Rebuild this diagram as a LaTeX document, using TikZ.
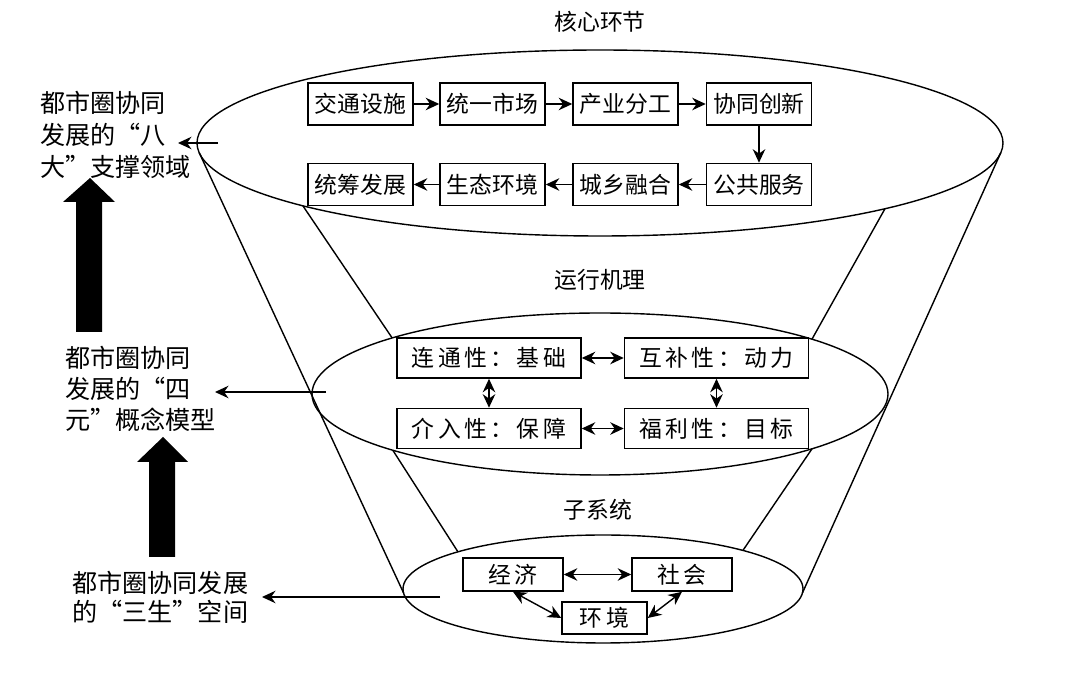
\documentclass[tikz,border=0pt]{standalone}
\usepackage{fontspec}
\usetikzlibrary{arrows.meta}
\newfontfamily\cjk[RawFeature=+fwid]{Noto Sans CJK SC}
\newfontfamily\cjkw[LetterSpace=15]{Noto Sans CJK SC}
\begin{document}
\begin{tikzpicture}[x=0.02cm,y=-0.02cm,
  ln/.style={line width=0.8pt},
  tip/.style={-{Stealth[length=2.7mm,width=2.5mm]}, line width=0.8pt},
  dtip/.style={{Stealth[length=2.7mm,width=2.5mm]}-{Stealth[length=2.7mm,width=2.5mm]}, line width=0.8pt},
  box/.style={draw, line width=0.9pt, inner sep=0pt, font=\cjk\fontsize{13}{15}\selectfont, minimum width=2.1cm, minimum height=0.84cm},
  mbox/.style={draw, line width=0.9pt, inner sep=0pt, font=\cjkw\fontsize{13}{15}\selectfont, minimum width=3.68cm, minimum height=0.8cm},
  sbox/.style={draw, line width=0.9pt, inner sep=0pt, font=\cjkw\fontsize{13}{15}\selectfont, minimum width=2.0cm, minimum height=0.66cm},
  ttl/.style={font=\cjk\fontsize{13}{15}\selectfont, inner sep=0pt},
  lab/.style={font=\cjk\fontsize{14.3}{18}\selectfont, align=left, inner sep=0pt, anchor=west}
]
\useasboundingbox (0,0) rectangle (1080,685);
\fill[white] (0,0) rectangle (1080,685);

% ellipses
\draw[ln] (600,143) ellipse [x radius=403, y radius=93];
\draw[ln] (600,394) ellipse [x radius=288, y radius=81];
\draw[ln] (603,589) ellipse [x radius=200, y radius=54];

% funnel outer lines
\draw[ln] ({600+403*cos(174)},{143+93*sin(174)}) -- ({603+200*cos(176)},{589+54*sin(176)});
\draw[ln] ({600+403*cos(6)},{143+93*sin(6)}) -- ({603+200*cos(4)},{589+54*sin(4)});
% inner lines
\draw[ln] ({600+403*cos(137.5)},{143+93*sin(137.5)}) -- ({600+288*cos(223.8)},{394+81*sin(223.8)});
\draw[ln] ({600+403*cos(45)},{143+93*sin(45)}) -- ({600+288*cos(317.4)},{394+81*sin(317.4)});
\draw[ln] ({600+288*cos(136)},{394+81*sin(136)}) -- ({603+200*cos(223.5)},{589+54*sin(223.5)});
\draw[ln] ({600+288*cos(42.6)},{394+81*sin(42.6)}) -- ({603+200*cos(314.4)},{589+54*sin(314.4)});

% titles
\node[ttl] (t1) at (600,22) {核心环节};
\node[ttl] (t2) at (600,280) {运行机理};
\node[ttl] (t3) at (598,510) {子系统};

% top boxes
\node[box] (a1) at (360.5,104) {交通设施};
\node[box] (a2) at (492.5,104) {统一市场};
\node[box] (a3) at (625.5,104) {产业分工};
\node[box] (a4) at (759,104) {协同创新};
\node[box] (b1) at (360.5,184.5) {统筹发展};
\node[box] (b2) at (492.5,184.5) {生态环境};
\node[box] (b3) at (625.5,184.5) {城乡融合};
\node[box] (b4) at (759,184.5) {公共服务};
\draw[tip] (a1) -- (a2);
\draw[tip] (a2) -- (a3);
\draw[tip] (a3) -- (a4);
\draw[tip] (a4) -- (b4);
\draw[tip] (b4) -- (b3);
\draw[tip] (b3) -- (b2);
\draw[tip] (b2) -- (b1);

% middle boxes
\node[mbox] (m1) at (489,358) {连通性：基础};
\node[mbox] (m2) at (716.5,358) {互补性：动力};
\node[mbox] (m3) at (489,428.5) {介入性：保障};
\node[mbox] (m4) at (716.5,428.5) {福利性：目标};
\draw[dtip] (m1) -- (m2);
\draw[dtip] (m3) -- (m4);
\draw[dtip] (m1) -- (m3);
\draw[dtip] (m2) -- (m4);

% bottom boxes
\node[sbox] (s1) at (513,574.5) {经济};
\node[sbox] (s2) at (682,574.5) {社会};
\node[sbox, minimum width=1.7cm, minimum height=0.64cm] (s3) at (604.5,618) {环境};
\draw[dtip] (s1) -- (s2);
\draw[dtip] (s1.south) -- (s3.west);
\draw[dtip] (s2.south) -- (s3.east);

% left labels
\node[lab] (L1) at (40,135) {都市圈协同\\发展的“八\\大”支撑领域};
\node[lab, font=\cjk\fontsize{14.3}{17.5}\selectfont] (L2) at (65,389) {都市圈协同\\发展的“四\\元”概念模型};
\node[lab, font=\cjk\fontsize{14.3}{16.5}\selectfont] (L3) at (72,597.5) {都市圈协同发展\\的“三生”空间};

% thin arrows to labels
\coordinate (p1) at (218,143); \coordinate (q1) at (178,143);
\coordinate (p2) at (326,392); \coordinate (q2) at (215,392);
\coordinate (p3) at (440,597); \coordinate (q3) at (262,597);
\draw[tip] (p1) -- (q1);
\draw[tip] (p2) -- (q2);
\draw[tip] (p3) -- (q3);

% big black arrows
\fill[black] (90,178) -- (115,202) -- (102,202) -- (102,332) -- (76,332) -- (76,202) -- (63,202) -- cycle;
\fill[black] (163,437) -- (188,462) -- (175,462) -- (175,557) -- (149,557) -- (149,462) -- (137,462) -- cycle;
\end{tikzpicture}
\end{document}
